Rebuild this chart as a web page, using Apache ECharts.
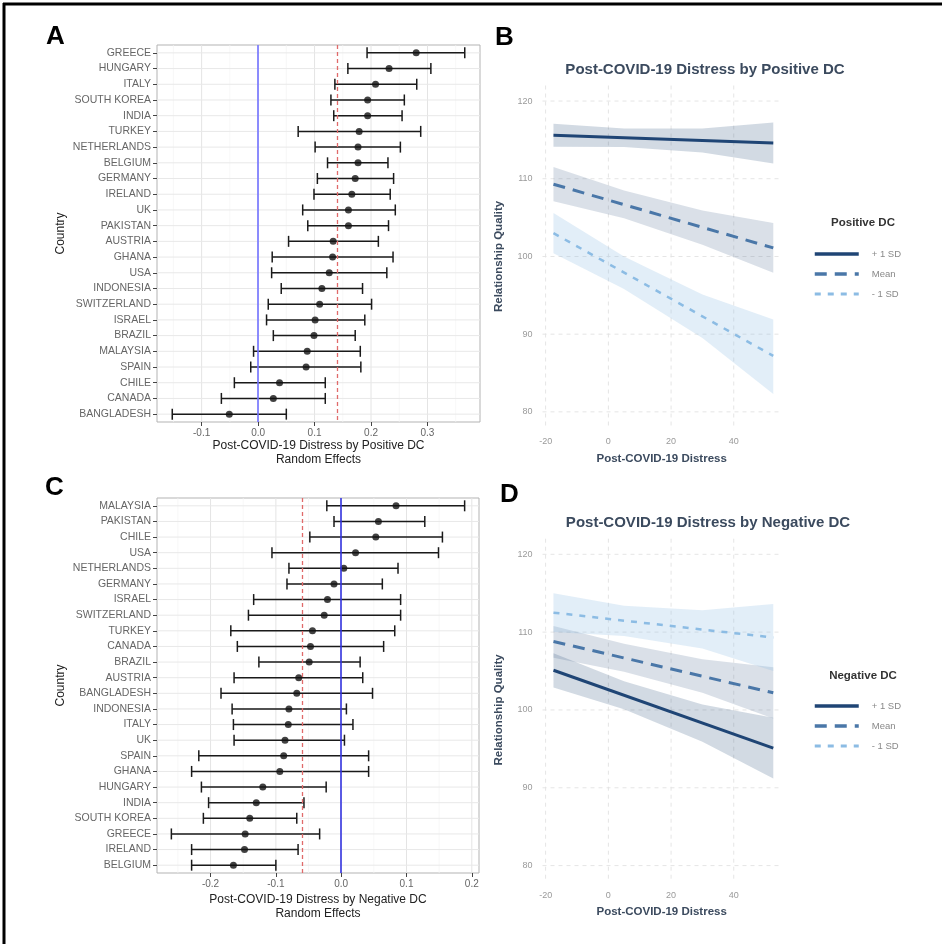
<!DOCTYPE html>
<html>
<head>
<meta charset="utf-8">
<title>Post-COVID-19 Distress by Positive and Negative DC</title>
<script src="https://cdn.jsdelivr.net/npm/echarts@6/dist/echarts.min.js"></script>
<style>
  html, body { margin: 0; padding: 0; background: #fff; }
  #main { width: 942px; height: 944px; }
</style>
</head>
<body>
<div id="main"></div>
<script>
// panel A - random effects, positive DC
var countriesA = ['GREECE', 'HUNGARY', 'ITALY', 'SOUTH KOREA', 'INDIA', 'TURKEY', 'NETHERLANDS', 'BELGIUM',
  'GERMANY', 'IRELAND', 'UK', 'PAKISTAN', 'AUSTRIA', 'GHANA', 'USA', 'INDONESIA', 'SWITZERLAND', 'ISRAEL',
  'BRAZIL', 'MALAYSIA', 'SPAIN', 'CHILE', 'CANADA', 'BANGLADESH'];
var estA = [0.280, 0.232, 0.208, 0.194, 0.194, 0.179, 0.177, 0.177, 0.172, 0.166, 0.160, 0.160,
  0.133, 0.132, 0.126, 0.113, 0.109, 0.101, 0.099, 0.087, 0.085, 0.038, 0.027, -0.051];
var lowA = [0.193, 0.159, 0.136, 0.129, 0.134, 0.071, 0.101, 0.123, 0.105, 0.099, 0.079, 0.088,
  0.054, 0.025, 0.024, 0.041, 0.018, 0.015, 0.027, -0.008, -0.013, -0.042, -0.065, -0.152];
var highA = [0.366, 0.306, 0.281, 0.259, 0.255, 0.288, 0.252, 0.230, 0.240, 0.234, 0.243, 0.231,
  0.213, 0.239, 0.228, 0.185, 0.201, 0.189, 0.172, 0.181, 0.182, 0.119, 0.119, 0.050];
var meanA = 0.137;
var ticksA = [-0.1, 0, 0.1, 0.2, 0.3];
var minorA = [-0.15, -0.05, 0.05, 0.15, 0.25, 0.35];

// panel C - random effects, negative DC
var countriesC = ['MALAYSIA', 'PAKISTAN', 'CHILE', 'USA', 'NETHERLANDS', 'GERMANY', 'ISRAEL', 'SWITZERLAND',
  'TURKEY', 'CANADA', 'BRAZIL', 'AUSTRIA', 'BANGLADESH', 'INDONESIA', 'ITALY', 'UK', 'SPAIN', 'GHANA',
  'HUNGARY', 'INDIA', 'SOUTH KOREA', 'GREECE', 'IRELAND', 'BELGIUM'];
var estC = [0.084, 0.057, 0.053, 0.022, 0.004, -0.011, -0.021, -0.026, -0.044, -0.047, -0.049, -0.065,
  -0.068, -0.080, -0.081, -0.086, -0.088, -0.094, -0.120, -0.130, -0.140, -0.147, -0.148, -0.165];
var lowC = [-0.022, -0.011, -0.048, -0.106, -0.080, -0.083, -0.134, -0.142, -0.169, -0.159, -0.126, -0.164,
  -0.184, -0.167, -0.165, -0.164, -0.218, -0.229, -0.214, -0.203, -0.211, -0.260, -0.229, -0.229];
var highC = [0.189, 0.128, 0.155, 0.149, 0.087, 0.063, 0.091, 0.091, 0.082, 0.065, 0.029, 0.033,
  0.048, 0.008, 0.018, 0.005, 0.042, 0.042, -0.023, -0.057, -0.068, -0.033, -0.066, -0.100];
var meanC = -0.058;
var ticksC = [-0.2, -0.1, 0, 0.1, 0.2];
var minorC = [-0.25, -0.15, -0.05, 0.05, 0.15];

// panels B and D - simple slopes
var sdNames = ['+ 1 SD', 'Mean', '- 1 SD'];
var lineX = [-17.5, 52.6];
var posHighY = [115.6, 114.6];
var posMeanY = [109.3, 101.1];
var posLowY = [103.0, 87.2];
var negHighY = [105.1, 95.1];
var negMeanY = [108.8, 102.2];
var negLowY = [112.5, 109.3];

var bandX = [-17.5, 5, 30, 52.6];
var posHighUpper = [117.07, 116.48, 116.47, 117.25];
var posHighLower = [114.13, 114.08, 113.37, 111.95];
var posMeanUpper = [111.5, 108.5, 105.9, 104.3];
var posMeanLower = [107.1, 104.9, 101.5, 97.9];
var posLowUpper = [105.6, 100.0, 95.1, 91.9];
var posLowLower = [100.4, 95.8, 89.5, 82.3];
var negHighUpper = [107.3, 103.7, 100.7, 99.0];
var negHighLower = [102.9, 100.1, 95.9, 91.2];
var negMeanUpper = [110.8, 108.5, 106.5, 105.5];
var negMeanLower = [106.7, 104.9, 102.2, 98.9];
var negLowUpper = [115.0, 113.4, 112.8, 113.6];
var negLowLower = [110.0, 109.5, 107.9, 105.0];

var distTicks = [-20, 0, 20, 40];
var rqTicks = [80, 90, 100, 110, 120];

var sdColors = ['#1f4575', '#4a77a8', '#8cbce4'];
var bandFills = ['rgba(31,69,117,0.2)', 'rgba(70,100,140,0.2)', 'rgba(140,188,228,0.25)'];
var sdDash = ['solid', [12, 8], [6, 7]];
var sdWidth = [3, 3, 2.5];
var slate = '#3b4a5e';
var FONT = 'Liberation Sans, Arial, sans-serif';

var chart = echarts.init(document.getElementById('main'));

function fmt1(v) { return v.toFixed(1); }

// gridline drawers, they use the axis scale for positions
function hLine(color, width, dash) {
  return function (params, api) {
    var cs = params.coordSys;
    var p = api.coord([api.value(0), api.value(1)]);
    return { type: 'line', shape: { x1: cs.x, y1: p[1], x2: cs.x + cs.width, y2: p[1] },
      style: { stroke: color, lineWidth: width, lineDash: dash } };
  };
}
function vLine(color, width, dash) {
  return function (params, api) {
    var cs = params.coordSys;
    var p = api.coord([api.value(0), api.value(1)]);
    return { type: 'line', shape: { x1: p[0], y1: cs.y, x2: p[0], y2: cs.y + cs.height },
      style: { stroke: color, lineWidth: width, lineDash: dash } };
  };
}
function errBar(params, api) {
  var a = api.coord([api.value(0), api.value(2)]);
  var b = api.coord([api.value(1), api.value(2)]);
  var h = 5.5;
  var st = { stroke: '#1a1a1a', lineWidth: 1.5 };
  return { type: 'group', children: [
    { type: 'line', shape: { x1: a[0], y1: a[1], x2: b[0], y2: b[1] }, style: st },
    { type: 'line', shape: { x1: a[0], y1: a[1] - h, x2: a[0], y2: a[1] + h }, style: st },
    { type: 'line', shape: { x1: b[0], y1: b[1] - h, x2: b[0], y2: b[1] + h }, style: st }
  ] };
}

function forestSeries(ax, countries, est, low, high, mean, majors, minors, zeroColor) {
  return [
    { type: 'custom', xAxisIndex: ax, yAxisIndex: ax, z: 0, silent: true,
      renderItem: vLine('#f3f3f3', 0.7),
      data: minors.map(function (v) { return [v, 0]; }) },
    { type: 'custom', xAxisIndex: ax, yAxisIndex: ax, z: 0, silent: true,
      renderItem: vLine('#e4e4e4', 1),
      data: majors.map(function (v) { return [v, 0]; }) },
    { type: 'custom', xAxisIndex: ax, yAxisIndex: ax, z: 0, silent: true,
      renderItem: hLine('#e8e8e8', 1),
      data: countries.map(function (c, i) { return [0, i]; }),
      markLine: { symbol: 'none', silent: true, label: { show: false },
        data: [
          { xAxis: 0, lineStyle: { color: zeroColor, type: 'solid', width: 1.6 } },
          { xAxis: mean, lineStyle: { color: '#e06a6a', type: [4, 3], width: 1.3 } }
        ] } },
    { type: 'custom', xAxisIndex: ax, yAxisIndex: ax, z: 2, renderItem: errBar,
      encode: { x: [0, 1], y: 2 },
      data: countries.map(function (c, i) { return [low[i], high[i], i]; }) },
    { type: 'scatter', xAxisIndex: ax, yAxisIndex: ax, z: 3, symbolSize: 7,
      itemStyle: { color: '#111' },
      data: countries.map(function (c, i) { return [est[i], i]; }) }
  ];
}

function ribbonSeries(ax, uppers, lowers) {
  return {
    type: 'custom', xAxisIndex: ax, yAxisIndex: ax, z: 1, silent: true,
    renderItem: function (params, api) {
      var k = params.dataIndex;
      var pts = [];
      for (var i = 0; i < bandX.length; i++) pts.push(api.coord([bandX[i], uppers[k][i]]));
      for (var j = bandX.length - 1; j >= 0; j--) pts.push(api.coord([bandX[j], lowers[k][j]]));
      return { type: 'polygon', shape: { points: pts }, style: { fill: bandFills[k] } };
    },
    data: uppers.map(function (u, k) { return [bandX[0], u[0]]; })
  };
}

function slopeSeries(ax, ys) {
  return ys.map(function (y, k) {
    return { name: sdNames[k], type: 'line', xAxisIndex: ax, yAxisIndex: ax, z: 3,
      symbol: 'none', color: sdColors[k],
      lineStyle: { color: sdColors[k], width: sdWidth[k], type: sdDash[k] },
      data: lineX.map(function (x, i) { return [x, y[i]]; }) };
  });
}

function slopeGrid(ax) {
  return [
    { type: 'custom', xAxisIndex: ax, yAxisIndex: ax, z: 0, silent: true,
      renderItem: vLine('#e2e2e2', 0.9, [4, 4]),
      data: distTicks.map(function (v) { return [v, 100]; }) },
    { type: 'custom', xAxisIndex: ax, yAxisIndex: ax, z: 0, silent: true,
      renderItem: hLine('#e2e2e2', 0.9, [4, 4]),
      data: rqTicks.map(function (v) { return [0, v]; }) }
  ];
}

function forestX(ax, min, max, ticks, name, gap) {
  return { gridIndex: ax, type: 'value', min: min, max: max,
    name: name, nameLocation: 'middle', nameGap: gap,
    nameTextStyle: { fontSize: 12, color: '#222', lineHeight: 13.5 },
    axisLine: { show: false, onZero: false },
    axisTick: { show: true, length: 4, customValues: ticks, lineStyle: { color: '#444' } },
    axisLabel: { customValues: ticks, formatter: fmt1, fontSize: 10, color: '#666', margin: 6 },
    splitLine: { show: false } };
}
function forestY(ax, countries) {
  return { gridIndex: ax, type: 'category', inverse: true, data: countries,
    name: 'Country', nameLocation: 'middle', nameGap: 90, nameRotate: 90,
    nameTextStyle: { fontSize: 12, color: '#222' },
    axisLine: { show: false, onZero: false },
    axisTick: { show: true, alignWithLabel: true, length: 4, lineStyle: { color: '#444' } },
    axisLabel: { fontSize: 10.5, color: '#666', margin: 6 },
    splitLine: { show: false } };
}
function slopeX(ax) {
  return { gridIndex: ax, type: 'value', min: -21, max: 55,
    name: 'Post-COVID-19 Distress', nameLocation: 'middle', nameGap: 25,
    nameTextStyle: { fontSize: 11.5, fontWeight: 'bold', color: slate },
    axisLine: { show: false, onZero: false }, axisTick: { show: false },
    axisLabel: { customValues: distTicks, fontSize: 9, color: '#9a9a9a', margin: 10 },
    splitLine: { show: false } };
}
function slopeY(ax) {
  return { gridIndex: ax, type: 'value', min: 78, max: 122,
    name: 'Relationship Quality', nameLocation: 'middle', nameGap: 38, nameRotate: 90,
    nameTextStyle: { fontSize: 11.5, fontWeight: 'bold', color: slate },
    axisLine: { show: false, onZero: false }, axisTick: { show: false },
    axisLabel: { customValues: rqTicks, fontSize: 9, color: '#9a9a9a', margin: 10 },
    splitLine: { show: false } };
}
function slopeLegend(top) {
  return {
    data: sdNames.map(function (n, k) {
      return { name: n, lineStyle: { width: sdWidth[k] + 0.5, type: sdDash[k] } };
    }),
    orient: 'vertical', left: 808, top: top,
    itemWidth: 44, itemHeight: 12, itemGap: 10, selectedMode: false,
    itemStyle: { opacity: 0 },
    textStyle: { color: '#888', fontSize: 9.5, padding: [0, 0, 0, 8] } };
}

var option = {
  animation: false,
  backgroundColor: '#fff',
  textStyle: { fontFamily: FONT },
  title: [
    { text: 'Post-COVID-19 Distress by Positive DC', left: 700, top: 57, textAlign: 'center',
      textStyle: { fontSize: 15, fontWeight: 'bold', color: slate } },
    { text: 'Post-COVID-19 Distress by Negative DC', left: 703, top: 510, textAlign: 'center',
      textStyle: { fontSize: 15, fontWeight: 'bold', color: slate } },
    { text: 'Positive DC', left: 858, top: 212, textAlign: 'center',
      textStyle: { fontSize: 11.5, fontWeight: 'bold', color: '#333' } },
    { text: 'Negative DC', left: 858, top: 665, textAlign: 'center',
      textStyle: { fontSize: 11.5, fontWeight: 'bold', color: '#333' } }
  ],
  legend: [slopeLegend(244), slopeLegend(696)],
  grid: [
    { left: 157, top: 45, width: 323, height: 377, show: true, borderColor: '#b3b3b3', borderWidth: 1, backgroundColor: '#fff' },
    { left: 542.5, top: 85.5, width: 238.3, height: 341.9 },
    { left: 157, top: 498, width: 322, height: 375, show: true, borderColor: '#b3b3b3', borderWidth: 1, backgroundColor: '#fff' },
    { left: 542.5, top: 538.7, width: 238.3, height: 342.5 }
  ],
  xAxis: [
    forestX(0, -0.179, 0.393, ticksA, 'Post-COVID-19 Distress by Positive DC\nRandom Effects', 17),
    slopeX(1),
    forestX(2, -0.282, 0.211, ticksC, 'Post-COVID-19 Distress by Negative DC\nRandom Effects', 20),
    slopeX(3)
  ],
  yAxis: [forestY(0, countriesA), slopeY(1), forestY(2, countriesC), slopeY(3)],
  series: [].concat(
    forestSeries(0, countriesA, estA, lowA, highA, meanA, ticksA, minorA, '#7272ff'),
    forestSeries(2, countriesC, estC, lowC, highC, meanC, ticksC, minorC, '#3434e0'),
    slopeGrid(1), slopeGrid(3),
    [ribbonSeries(1, [posHighUpper, posMeanUpper, posLowUpper], [posHighLower, posMeanLower, posLowLower]),
     ribbonSeries(3, [negHighUpper, negMeanUpper, negLowUpper], [negHighLower, negMeanLower, negLowLower])],
    slopeSeries(1, [posHighY, posMeanY, posLowY]),
    slopeSeries(3, [negHighY, negMeanY, negLowY])
  ),
  graphic: [
    { type: 'line', shape: { x1: 3, y1: 4, x2: 942, y2: 4 }, style: { stroke: '#000', lineWidth: 3 } },
    { type: 'line', shape: { x1: 4, y1: 3, x2: 4, y2: 944 }, style: { stroke: '#000', lineWidth: 3 } },
    { type: 'text', x: 46, y: 37, style: { text: 'A', font: 'bold 26px ' + FONT, fill: '#000', verticalAlign: 'middle' } },
    { type: 'text', x: 495, y: 38, style: { text: 'B', font: 'bold 26px ' + FONT, fill: '#000', verticalAlign: 'middle' } },
    { type: 'text', x: 45, y: 488, style: { text: 'C', font: 'bold 26px ' + FONT, fill: '#000', verticalAlign: 'middle' } },
    { type: 'text', x: 500, y: 495, style: { text: 'D', font: 'bold 26px ' + FONT, fill: '#000', verticalAlign: 'middle' } }
  ]
};

chart.setOption(option);
</script>
</body>
</html>
